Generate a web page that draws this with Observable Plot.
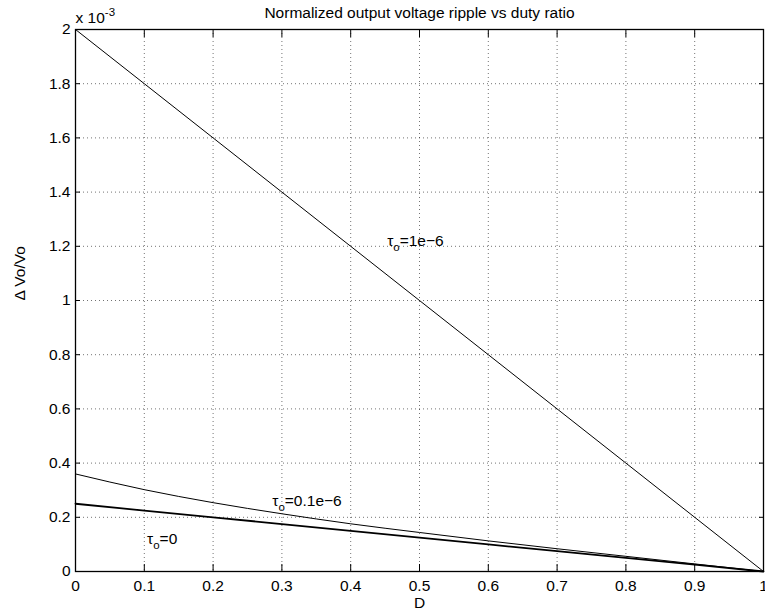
<!DOCTYPE html>
<html>
<head>
<meta charset="utf-8">
<script src="https://cdn.jsdelivr.net/npm/d3@7"></script>
<script src="https://cdn.jsdelivr.net/npm/@observablehq/plot@0.6"></script>
<style>
  html, body { margin: 0; padding: 0; background: #fff; }
  #chart svg { display: block; }
</style>
</head>
<body>
<div id="chart"></div>
<script>
// Duty ratio D and normalized ripple ΔVo/Vo (in units of 1e-3) for three time constants
const dutyRatio = [0, 0.1, 0.2, 0.3, 0.4, 0.5, 0.6, 0.7, 0.8, 0.9, 1];
const rippleTau1e6 = [2.0, 1.8, 1.6, 1.4, 1.2, 1.0, 0.8, 0.6, 0.4, 0.2, 0];
const rippleTau01e6 = [0.36, 0.302, 0.254, 0.213, 0.176, 0.144, 0.113, 0.084, 0.056, 0.028, 0];
const rippleTau0 = [0.25, 0.225, 0.2, 0.175, 0.15, 0.125, 0.1, 0.075, 0.05, 0.025, 0];

const xTicks = [0, 0.1, 0.2, 0.3, 0.4, 0.5, 0.6, 0.7, 0.8, 0.9, 1];
const yTicks = [0, 0.2, 0.4, 0.6, 0.8, 1, 1.2, 1.4, 1.6, 1.8, 2];

const titleText = "Normalized output voltage ripple vs duty ratio";
const xLabel = "D";
const yLabel = "Δ Vo/Vo";
const yExponent = "x 10^{-3}";

// Curve annotations: text and anchor point (D, ripple)
const noteText = ["τ_{o}=1e−6", "τ_{o}=0.1e−6", "τ_{o}=0"];
const noteD = [0.453, 0.286, 0.104];
const noteRipple = [1.2, 0.24, 0.103];

const toRows = (ys) => dutyRatio.map((d, i) => ({D: d, r: ys[i]}));
const notes = noteText.map((t, i) => ({t, D: noteD[i], r: noteRipple[i]}));
const fmt = d3.format("~g");
const FS = 15.5;

const chart = Plot.plot({
  width: 765,
  height: 612,
  marginLeft: 75,
  marginRight: 2,
  marginTop: 29,
  marginBottom: 41,
  style: {fontFamily: "'Liberation Sans', Arial, Helvetica, sans-serif", fontSize: FS + "px", color: "#000", background: "#fff"},
  x: {domain: [0, 1]},
  y: {domain: [0, 2]},
  marks: [
    Plot.gridX(xTicks, {stroke: "#000", strokeOpacity: 0.55, strokeDasharray: "1,3"}),
    Plot.gridY(yTicks, {stroke: "#000", strokeOpacity: 0.55, strokeDasharray: "1,3"}),
    Plot.axisX(xTicks, {anchor: "bottom", tickSize: -7, tickPadding: 15, tickFormat: fmt, label: null, fontSize: FS}),
    Plot.axisX(xTicks, {anchor: "top", tickSize: -7, tickFormat: () => "", label: null}),
    Plot.axisY(yTicks, {anchor: "left", tickSize: -5, tickPadding: 10, tickFormat: fmt, label: null, fontSize: FS}),
    Plot.axisY(yTicks, {anchor: "right", tickSize: -5, tickFormat: () => "", label: null}),
    Plot.line(toRows(rippleTau1e6), {x: "D", y: "r", stroke: "#000", strokeWidth: 1}),
    Plot.line(toRows(rippleTau01e6), {x: "D", y: "r", stroke: "#000", strokeWidth: 1, curve: "monotone-x"}),
    Plot.line(toRows(rippleTau0), {x: "D", y: "r", stroke: "#000", strokeWidth: 1.8}),
    Plot.frame({stroke: "#000", strokeWidth: 1.3}),
    Plot.text(notes, {x: "D", y: "r", text: "t", textAnchor: "start", lineAnchor: "bottom", fontSize: FS, fill: "#000"}),
    Plot.text([titleText], {frameAnchor: "top", lineAnchor: "bottom", dy: -12, fontSize: FS, fill: "#000"}),
    Plot.text([yExponent], {frameAnchor: "top-left", textAnchor: "start", lineAnchor: "bottom", dy: -7, fontSize: FS, fill: "#000"}),
    Plot.text([xLabel], {frameAnchor: "bottom", lineAnchor: "bottom", dy: 36, fontSize: FS, fill: "#000"}),
    Plot.text([yLabel], {frameAnchor: "left", rotate: -90, dx: -55, fontSize: FS, fill: "#000"})
  ]
});

// Turn ^{..} and _{..} markup into raised / lowered tspans
function richText(node) {
  const s = node.textContent;
  if (!/[_^]\{/.test(s)) return;
  node.textContent = "";
  const re = /([_^])\{([^}]*)\}|([^_^]+)/g;
  let shift = 0, m;
  while ((m = re.exec(s))) {
    const ts = document.createElementNS("http://www.w3.org/2000/svg", "tspan");
    if (m[3]) {
      ts.textContent = m[3];
      if (shift) ts.setAttribute("dy", -shift);
      shift = 0;
    } else {
      const off = m[1] === "_" ? 5 : -7;
      ts.textContent = m[2];
      ts.setAttribute("dy", off - shift);
      ts.setAttribute("font-size", "11.5");
      shift = off;
    }
    node.appendChild(ts);
  }
}
chart.querySelectorAll("text").forEach(richText);

document.getElementById("chart").appendChild(chart);
</script>
</body>
</html>
